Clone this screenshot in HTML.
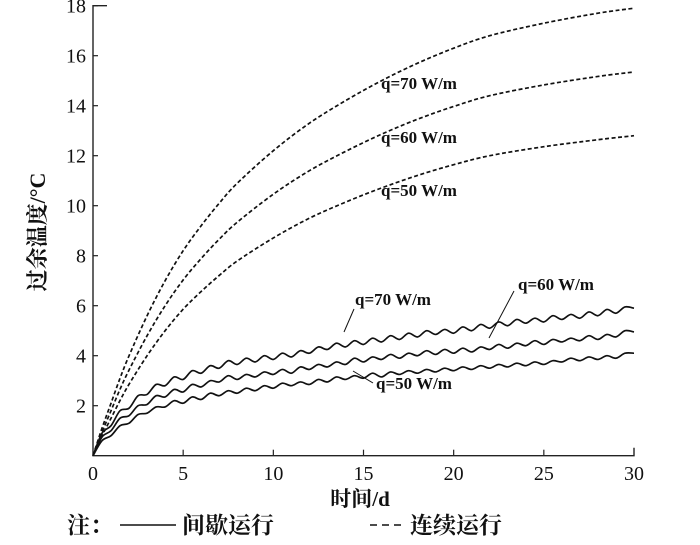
<!DOCTYPE html>
<html><head><meta charset="utf-8"><style>
body{margin:0;background:#fff}
svg text{font-family:"Liberation Serif","Noto Serif CJK SC",serif;fill:#111}
</style></head><body>
<svg id="c" width="700" height="540" viewBox="0 0 700 540" xmlns="http://www.w3.org/2000/svg"></svg>
<script>
const xTicks=[0,5,10,15,20,25,30];
const yTicks=[2,4,6,8,10,12,14,16,18];
const contT=[0,0.5,1,1.5,2,3,4,5,6,7,8,10,12,14,16,18,20,22,25,28,30];
const cont70=[0,1.1,2.1,3.1,4.0,5.6,7.0,8.2,9.2,10.1,10.9,12.2,13.3,14.2,15.0,15.7,16.3,16.8,17.3,17.7,17.9];
const cont60=[0,0.94,1.8,2.66,3.43,4.8,6.0,7.03,7.89,8.66,9.34,10.46,11.4,12.17,12.86,13.46,13.97,14.4,14.83,15.17,15.35];
const cont50=[0,0.79,1.5,2.21,2.86,4.0,5.0,5.86,6.57,7.21,7.79,8.71,9.5,10.14,10.71,11.21,11.64,12.0,12.36,12.64,12.8];
const intStep=0.5;
const int70=[0,0.9,1.2,1.8,1.9,2.4,2.45,2.85,2.8,3.15,
3.05,3.4,3.3,3.6,3.5,3.8,3.65,3.9,3.75,4.0,
3.85,4.1,3.95,4.2,4.1,4.35,4.25,4.5,4.35,4.6,
4.45,4.7,4.55,4.8,4.65,4.9,4.75,5.0,4.85,5.05,
4.9,5.15,5.0,5.25,5.1,5.35,5.2,5.45,5.3,5.5,
5.35,5.6,5.45,5.65,5.5,5.75,5.6,5.85,5.7,5.95,
5.9];
const int60=[0,0.75,1.0,1.5,1.6,2.0,2.05,2.4,2.35,2.65,
2.55,2.85,2.75,3.0,2.95,3.2,3.05,3.25,3.15,3.35,
3.25,3.45,3.3,3.55,3.45,3.65,3.55,3.75,3.65,3.9,
3.75,3.95,3.85,4.05,3.9,4.1,4.0,4.2,4.05,4.25,
4.1,4.3,4.15,4.35,4.25,4.45,4.3,4.5,4.4,4.6,
4.45,4.65,4.55,4.7,4.6,4.8,4.65,4.85,4.75,5.0,
4.95];
const int50=[0,0.6,0.8,1.2,1.3,1.65,1.7,1.95,1.95,2.2,
2.1,2.35,2.25,2.5,2.4,2.6,2.5,2.7,2.6,2.8,
2.7,2.9,2.8,2.95,2.85,3.05,2.95,3.15,3.05,3.2,
3.1,3.3,3.15,3.35,3.25,3.4,3.3,3.45,3.35,3.5,
3.4,3.55,3.45,3.6,3.5,3.65,3.55,3.7,3.6,3.75,
3.65,3.8,3.75,3.9,3.8,3.95,3.85,4.0,3.9,4.1,
4.1];
const NS="http://www.w3.org/2000/svg";
const svg=document.getElementById('c');
const X0=93,X1=634,Y0=455.7,PY=25;
const sx=v=>X0+(X1-X0)*v/30, sy=v=>Y0-v*PY;
function mk(tag,attrs,parent){const e=document.createElementNS(NS,tag);for(const k in attrs)e.setAttribute(k,attrs[k]);(parent||svg).appendChild(e);return e;}
function smooth(pts){let d=`M${pts[0][0]},${pts[0][1]}`;for(let i=0;i<pts.length-1;i++){const p0=pts[Math.max(0,i-1)],p1=pts[i],p2=pts[i+1],p3=pts[Math.min(pts.length-1,i+2)];
d+=` C${p1[0]+(p2[0]-p0[0])/6},${p1[1]+(p2[1]-p0[1])/6} ${p2[0]-(p3[0]-p1[0])/6},${p2[1]-(p3[1]-p1[1])/6} ${p2[0]},${p2[1]}`;}return d;}
let a=mk('path',{d:`M${X0+14},${sy(18)} H${X0} V${Y0} H${X1} V${Y0-8}`,fill:'none',stroke:'#222','stroke-width':1.4});


yTicks.forEach(v=>{
 const t=mk('line',{x1:X0,x2:X0+5,y1:sy(v),y2:sy(v),stroke:'#222','stroke-width':1.2});
 
 
 const l=mk('text',{x:86,y:sy(v)+7,'text-anchor':'end','font-size':20});
 
 
 l.textContent=v;
});
xTicks.forEach(v=>{
 if(v>0&&v<30){const t=mk('line',{x1:sx(v),x2:sx(v),y1:Y0,y2:Y0-6,stroke:'#222','stroke-width':1.2});
 
 }
 const l=mk('text',{x:sx(v),y:480,'text-anchor':'middle','font-size':20});
 
 
 l.textContent=v;
});
[[cont70,'cont-q70'],[cont60,'cont-q60'],[cont50,'cont-q50']].forEach(([arr,n])=>{
 const p=mk('path',{d:smooth(arr.map((v,i)=>[sx(contT[i]),sy(v)])),fill:'none',stroke:'#111','stroke-width':1.7,'stroke-dasharray':'4 2.5'});
 
 
});
[[int70,'int-q70'],[int60,'int-q60'],[int50,'int-q50']].forEach(([arr,n])=>{
 const p=mk('path',{d:smooth(arr.map((v,i)=>[sx(i*intStep),sy(v)])),fill:'none',stroke:'#111','stroke-width':1.7});
 
 
});
function lab(x,y,t,n){const e=mk('text',{x:x,y:y,'font-size':17,'font-weight':'bold'});
 
 
 e.textContent=t;}
lab(381,89,'q=70 W/m','label-cont-q70');
lab(381,143,'q=60 W/m','label-cont-q60');
lab(381,196,'q=50 W/m','label-cont-q50');
lab(355,305,'q=70 W/m','label-int-q70');
lab(518,290,'q=60 W/m','label-int-q60');
lab(376,389,'q=50 W/m','label-int-q50');
[[344,332,354,309],[489,338,514,291],[353,371,373,383]].forEach(s=>{
 const l=mk('line',{x1:s[0],y1:s[1],x2:s[2],y2:s[3],stroke:'#111','stroke-width':1});
 
 
});
let yt=mk('text',{x:0,y:0,'font-size':22,'font-weight':'bold','text-anchor':'middle',transform:'translate(45,232) rotate(-90)'});


yt.textContent='过余温度/°C';
let xt=mk('text',{x:360,y:506,'font-size':21,'font-weight':'bold','text-anchor':'middle'});


xt.textContent='时间/d';
let n1=mk('text',{x:67,y:533,'font-size':23,'font-weight':'bold'});


n1.textContent='注：';
let ll=mk('line',{x1:120,x2:176,y1:525,y2:525,stroke:'#111','stroke-width':1.6});


let n2=mk('text',{x:182,y:533,'font-size':23,'font-weight':'bold'});


n2.textContent='间歇运行';
let ld=mk('line',{x1:370,x2:403,y1:525,y2:525,stroke:'#111','stroke-width':1.6,'stroke-dasharray':'7 5'});


let n3=mk('text',{x:410,y:533,'font-size':23,'font-weight':'bold'});


n3.textContent='连续运行';
</script>
</body></html>
